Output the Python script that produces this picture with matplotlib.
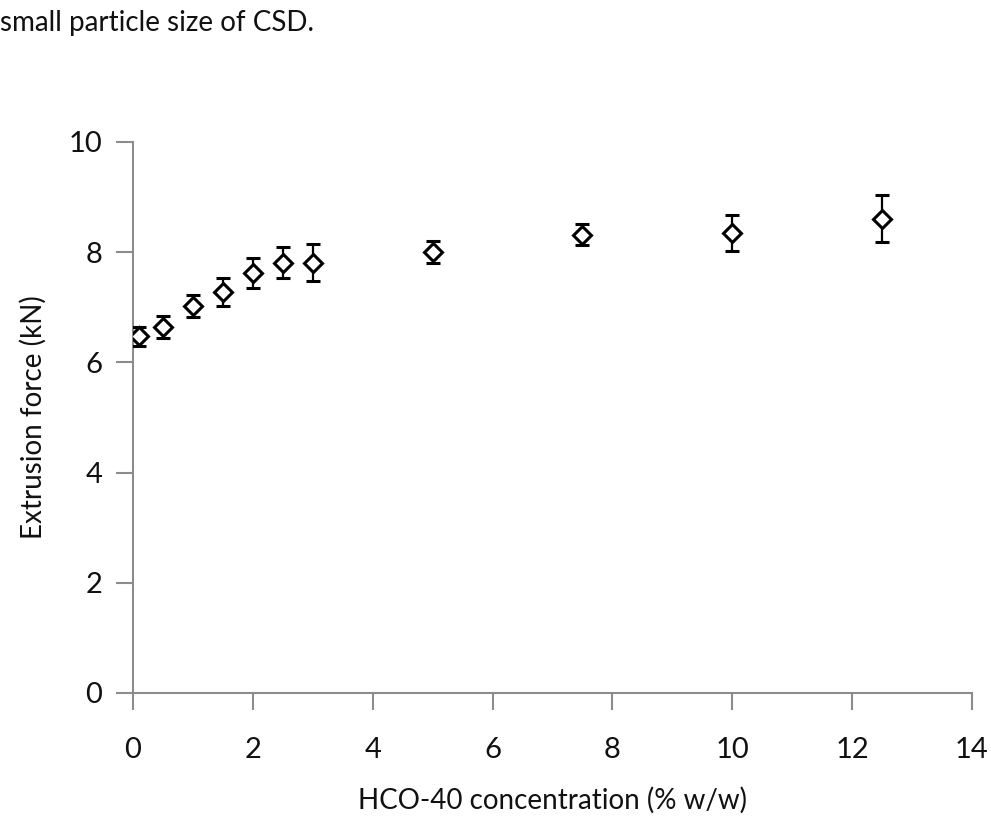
import matplotlib
matplotlib.use("Agg")
import matplotlib.pyplot as plt

plt.rcParams['font.family'] = ['Lato', 'DejaVu Sans']

# HCO-40 concentration (% w/w)
conc = [0.1, 0.5, 1.0, 1.5, 2.0, 2.5, 3.0, 5.0, 7.5, 10.0, 12.5]
# extrusion force (kN) and standard deviation
force = [6.47, 6.65, 7.02, 7.28, 7.62, 7.81, 7.81, 8.01, 8.32, 8.35, 8.61]
sd = [0.17, 0.20, 0.20, 0.26, 0.27, 0.28, 0.33, 0.20, 0.19, 0.33, 0.43]

x_ticks = [0, 2, 4, 6, 8, 10, 12, 14]
y_ticks = [0, 2, 4, 6, 8, 10]

fig = plt.figure(figsize=(9.91, 8.23), dpi=100)
ax = fig.add_axes([0.1342, 0.158, 0.8466, 0.6695])

ax.errorbar(conc, force, yerr=sd, fmt='D', mfc='white', mec='black', mew=2.2,
            ms=9.5, ecolor='black', elinewidth=1.6, capsize=4.8, capthick=2,
            zorder=3)

ax.set_xlim(0, 14)
ax.set_ylim(0, 10)
ax.set_xticks(x_ticks)
ax.set_yticks(y_ticks)

gray = '#8c8c8c'
for side in ['top', 'right']:
    ax.spines[side].set_visible(False)
for side in ['left', 'bottom']:
    ax.spines[side].set_color(gray)
    ax.spines[side].set_linewidth(1.5)

ax.tick_params(axis='both', direction='out', length=12, width=1.5, color=gray,
               labelsize=21, labelcolor='#111111')
ax.tick_params(axis='x', pad=20)
ax.tick_params(axis='y', pad=10)

ax.set_xlabel('HCO-40 concentration (% w/w)', fontsize=20, color='#111111', labelpad=17)
ax.set_ylabel('Extrusion force (kN)', fontsize=20, color='#111111', labelpad=16)

fig.text(0.0, 0.972, 'small particle size of CSD.', fontsize=20,
         color='#111111', ha='left', va='center')

fig.savefig('out.png', dpi=100)
